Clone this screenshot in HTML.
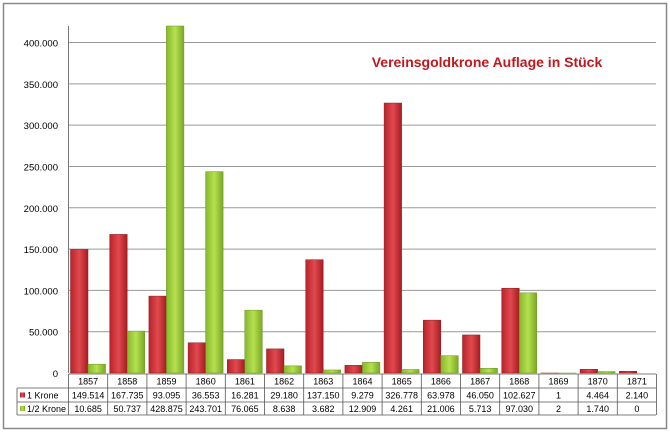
<!DOCTYPE html>
<html><head><meta charset="utf-8"><style>
body{margin:0;background:#fff;font-family:"Liberation Sans",sans-serif}
svg text{font-family:"Liberation Sans",sans-serif}
</style></head><body>
<svg width="670" height="433" xmlns="http://www.w3.org/2000/svg">
<defs>
<linearGradient id="gr" x1="0" x2="1"><stop offset="0" stop-color="#b8222a"/><stop offset="0.5" stop-color="#e04a4e"/><stop offset="1" stop-color="#a81c22"/></linearGradient>
<linearGradient id="gg" x1="0" x2="1"><stop offset="0" stop-color="#86b82c"/><stop offset="0.5" stop-color="#b6e050"/><stop offset="1" stop-color="#7aa824"/></linearGradient>
</defs>
<rect x="3.5" y="3.5" width="663" height="425" fill="#fff" stroke="#888" stroke-width="1.5"/>
<g id="grid"></g>
<g id="bars"></g>
<g id="table"></g>
<text x="487" y="67" text-anchor="middle" font-size="14" font-weight="bold" fill="#c0181f">Vereinsgoldkrone Auflage in Stück</text>
</svg>
<script>
const years=["1857","1858","1859","1860","1861","1862","1863","1864","1865","1866","1867","1868","1869","1870","1871"];
const krone=[149514,167735,93095,36553,16281,29180,137150,9279,326778,63978,46050,102627,1,4464,2140];
const halbKrone=[10685,50737,428875,243701,76065,8638,3682,12909,4261,21006,5713,97030,2,1740,0];
const kroneLabels=["149.514","167.735","93.095","36.553","16.281","29.180","137.150","9.279","326.778","63.978","46.050","102.627","1","4.464","2.140"];
const halbLabels=["10.685","50.737","428.875","243.701","76.065","8.638","3.682","12.909","4.261","21.006","5.713","97.030","2","1.740","0"];
const yTicks=[0,50000,100000,150000,200000,250000,300000,350000,400000];
const yTickLabels=["0","50.000","100.000","150.000","200.000","250.000","300.000","350.000","400.000"];
const NS="http://www.w3.org/2000/svg";
const X0=68.5,COL=39.2,Y0=373,YTOP=26,YMAX=420000;
const y=v=>Y0-(Math.min(v,YMAX)/YMAX)*(Y0-YTOP);
const x=i=>X0+i*COL;
function mk(t,a,p){const e=document.createElementNS(NS,t);for(const k in a)e.setAttribute(k,a[k]);p.appendChild(e);return e;}
const grid=document.getElementById('grid');
yTicks.forEach((v,i)=>{
 if(v>0){const l=mk('line',{x1:X0,x2:656,y1:y(v),y2:y(v),stroke:'#999','stroke-width':1},grid);
 
 }
 const t=mk('text',{x:58,y:y(v)+4,'text-anchor':'end','font-size':9.5,fill:'#000'},grid);
 t.textContent=yTickLabels[i];
 
 
});
const ax=mk('line',{x1:X0,x2:X0,y1:YTOP,y2:Y0,stroke:'#777'},grid);


const bars=document.getElementById('bars');
years.forEach((yr,i)=>{
 const bw=17.5;
 const r=mk('rect',{x:x(i)+2,y:y(krone[i]),width:bw,height:Y0-y(krone[i]),fill:'url(#gr)',stroke:'#8a1a1e','stroke-width':0.5},bars);
 
 
 const g=mk('rect',{x:x(i)+2+bw,y:y(halbKrone[i]),width:bw,height:Y0-y(halbKrone[i]),fill:'url(#gg)',stroke:'#6a9420','stroke-width':0.5},bars);
 
 
});
const tb=document.getElementById('table');
const rows=[374,388,402,415];
rows.forEach((ry,i)=>{const l=mk('line',{x1:i==0?X0:17,x2:656,y1:ry,y2:ry,stroke:'#555','stroke-width':0.8},tb);
 
 });
for(let i=0;i<=15;i++){const l=mk('line',{x1:x(i),x2:x(i),y1:374,y2:415,stroke:'#555','stroke-width':0.8},tb);
 
 }
const lv=mk('line',{x1:17,x2:17,y1:388,y2:415,stroke:'#555','stroke-width':0.8},tb);


years.forEach((yr,i)=>{
 [[yr,384.5],[kroneLabels[i],398.5],[halbLabels[i],412]].forEach(([s,ty],j)=>{
  const t=mk('text',{x:x(i)+COL/2,y:ty,'text-anchor':'middle','font-size':9,fill:'#000'},tb);
  t.textContent=s;
  
  
 });
});
[["1 Krone","url(#gr)",398.5],["1/2 Krone","url(#gg)",412]].forEach(([s,f,ty])=>{
 const r=mk('rect',{x:20,y:ty-6,width:5,height:5,fill:f},tb);
 
 
 const t=mk('text',{x:27,y:ty,'font-size':9,fill:'#000'},tb);
 t.textContent=s;
 
 
});
</script>
</body></html>
